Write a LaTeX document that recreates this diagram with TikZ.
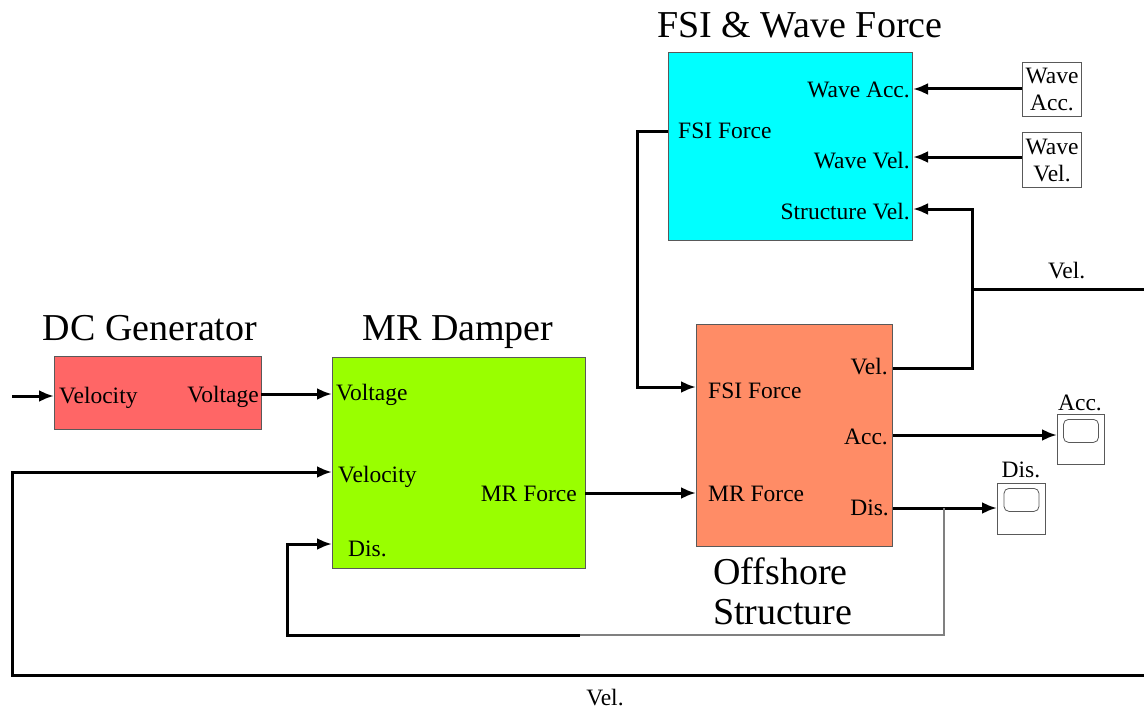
\documentclass[tikz,border=0pt]{standalone}
\usepackage{fontspec}
\setmainfont{Liberation Serif}
\usetikzlibrary{arrows.meta}
\usetikzlibrary{positioning}
\tikzset{block/.style = {draw = black!65, line width = 1pt, inner sep = 0, anchor = north west}}
\tikzset{screen/.style = {draw = black!65, line width = 0.8pt, rounded corners = 5pt, inner sep = 0, minimum width = 35pt, minimum height = 23pt}}
\tikzset{wire/.style = {line width = 3pt}}
\tikzset{sig/.style = {wire, -{Latex[length = 15pt, width = 12pt]}}}
\tikzset{lbl/.style = {font = \fontsize{23.5}{27}\selectfont, inner sep = 0}}
\tikzset{ttl/.style = {font = \fontsize{38}{40}\selectfont, inner sep = 0}}
\definecolor{mgen}{RGB}{255, 102, 102}
\definecolor{mdamp}{RGB}{153, 255, 0}
\definecolor{mstruct}{RGB}{255, 140, 102}
\definecolor{mwave}{RGB}{0, 255, 255}

\begin{document}
\begin{tikzpicture}[x = 1pt, y = -1pt]
      \useasboundingbox (0, 0) rectangle (1144, 709);

      \node [block, fill = mgen, minimum width = 207pt, minimum height = 73pt] (dcgen) at (54, 356) {};
      \node [block, fill = mdamp, minimum width = 253pt, minimum height = 211pt] (damper) at (332, 357) {};
      \node [block, fill = mstruct, minimum width = 196pt, minimum height = 222pt] (struct) at (696, 324) {};
      \node [block, fill = mwave, minimum width = 244pt, minimum height = 188pt] (wave) at (668, 52) {};

      \node [ttl, anchor = base] (dcgen-t) at (150, 340) {DC Generator};
      \node [ttl, anchor = base] (damper-t) at (458, 340) {MR Damper};
      \node [ttl, anchor = base] (wave-t) at (800, 38) {FSI \& Wave Force};
      \node [ttl, anchor = base west] (struct-t1) at (713, 584) {Offshore};
      \node [ttl, anchor = base west] (struct-t2) at (713, 624) {Structure};

      \node [lbl, anchor = base west] (dcgen-l1) at (59, 403) {Velocity};
      \node [lbl, anchor = base east] (dcgen-l2) at (259, 402) {Voltage};
      \node [lbl, anchor = base west] (damper-l1) at (336, 400) {Voltage};
      \node [lbl, anchor = base west] (damper-l2) at (338, 482) {Velocity};
      \node [lbl, anchor = base west] (damper-l3) at (348, 556) {Dis.};
      \node [lbl, anchor = base east] (damper-l4) at (577, 501) {MR Force};
      \node [lbl, anchor = base west] (struct-l1) at (708, 398) {FSI Force};
      \node [lbl, anchor = base west] (struct-l2) at (708, 501) {MR Force};
      \node [lbl, anchor = base east] (struct-l3) at (888, 374) {Vel.};
      \node [lbl, anchor = base east] (struct-l4) at (888, 444) {Acc.};
      \node [lbl, anchor = base east] (struct-l5) at (889, 515) {Dis.};
      \node [lbl, anchor = base west] (wave-l1) at (678, 139) {FSI Force};
      \node [lbl, anchor = base east] (wave-l2) at (910, 97) {Wave Acc.};
      \node [lbl, anchor = base east] (wave-l3) at (910, 168) {Wave Vel.};
      \node [lbl, anchor = base east] (wave-l4) at (910, 219) {Structure Vel.};

      \node [block, lbl, align = center, minimum width = 59pt, minimum height = 54pt] (wacc) at (1022, 62) {Wave\\Acc.};
      \node [block, lbl, align = center, minimum width = 59pt, minimum height = 55pt] (wvel) at (1022, 132) {Wave\\Vel.};

      \node [block, minimum width = 47pt, minimum height = 50pt] (accscope) at (1057, 414) {};
      \node [screen, below = 5pt of accscope.north] (accscope-s) {};
      \node [lbl, anchor = base] (accscope-t) at (1080, 410) {Acc.};
      \node [block, minimum width = 48pt, minimum height = 51pt] (disscope) at (997, 483) {};
      \node [screen, below = 5pt of disscope.north] (disscope-s) {};
      \node [lbl, anchor = base] (disscope-t) at (1021, 477) {Dis.};

      \coordinate (dcgen-in) at (54, 396);
      \coordinate (dcgen-out) at (261, 394);
      \coordinate (damper-volt) at (332, 394);
      \coordinate (damper-vel) at (332, 472);
      \coordinate (damper-dis) at (332, 544);
      \coordinate (damper-out) at (585, 493);
      \coordinate (struct-fsi) at (696, 387);
      \coordinate (struct-mr) at (696, 493);
      \coordinate (struct-vel) at (893, 368);
      \coordinate (struct-acc) at (893, 435);
      \coordinate (struct-dis) at (893, 508);
      \coordinate (wave-fsi) at (668, 131);
      \coordinate (wave-acc) at (913, 89);
      \coordinate (wave-vel) at (913, 157);
      \coordinate (wave-svel) at (913, 209);
      \coordinate (src) at (12, 396);
      \coordinate (velsplit) at (972, 289);
      \coordinate (velout) at (1144, 289);
      \coordinate (velin) at (1144, 675);
      \coordinate (dissplit) at (944, 508);
      \coordinate (disjoin) at (580, 635);

      \draw [sig] (src) -- (dcgen-in);
      \draw [sig] (dcgen-out) -- (damper-volt);
      \draw [sig] (damper-out) -- (struct-mr);
      \draw [sig] (wave-fsi) -- ++(-31, 0) |- (struct-fsi);
      \draw [sig] (struct-vel) -- (struct-vel -| velsplit) |- (wave-svel);
      \draw [wire] (velsplit) -- (velout) node [lbl, pos = 0.55, above = 9pt] (velout-t) {Vel.};
      \draw [sig] (wacc.west |- wave-acc) -- (wave-acc);
      \draw [sig] (wvel.west |- wave-vel) -- (wave-vel);
      \draw [sig] (struct-acc) -- (accscope.west |- struct-acc);
      \draw [sig] (struct-dis) -- (disscope.west |- struct-dis);
      \draw [gray, line width = 1.5pt] (dissplit) |- (disjoin);
      \draw [sig] (disjoin) -- ++(-293, 0) |- (damper-dis);
      \draw [sig] (velin) -- ++(-1132, 0) |- (damper-vel);
      \node [lbl, anchor = base] (velin-t) at (605, 705) {Vel.};
    \end{tikzpicture}
\end{document}
